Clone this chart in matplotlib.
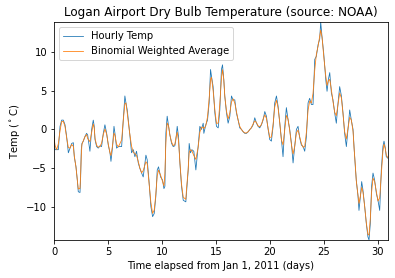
import numpy as np
import matplotlib
matplotlib.use("Agg")
import matplotlib.pyplot as plt

# Logan Airport dry bulb temperature, Jan 2011
days = [0.00, 0.09, 0.25, 0.40, 0.56, 0.71, 0.86, 1.02, 1.17, 1.33, 1.48, 1.64, 1.79,
        1.88, 2.04, 2.16, 2.25, 2.41, 2.47, 2.53, 2.59, 2.72, 2.87, 3.02, 3.12, 3.33,
        3.49, 3.64, 3.73, 3.80, 3.95, 4.10, 4.26, 4.41, 4.57, 4.72, 4.88, 5.03, 5.19,
        5.28, 5.43, 5.56, 5.65, 5.80, 5.96, 6.27, 6.42, 6.57, 6.67, 6.79, 6.98, 7.19,
        7.35, 7.50, 7.65, 7.81, 7.96, 8.12, 8.27, 8.52, 8.64, 8.80, 8.98, 9.14, 9.29,
        9.44, 9.57, 9.69, 9.88, 10.06, 10.19, 10.28, 10.37, 10.49, 10.62, 10.74, 10.90,
        11.05, 11.20, 11.30, 11.42, 11.54, 11.67, 11.82, 11.98, 12.22, 12.28, 12.44,
        12.53, 12.65, 12.78, 12.96, 13.15, 13.36, 13.52, 13.67, 13.83, 13.89, 14.07,
        14.23, 14.38, 14.51, 14.60, 14.75, 14.91, 15.06, 15.22, 15.37, 15.52, 15.62,
        15.74, 15.83, 15.99, 16.14, 16.30, 16.45, 16.60, 16.76, 16.91, 17.07, 17.22,
        17.38, 17.53, 17.69, 17.84, 18.00, 18.15, 18.30, 18.46, 18.61, 18.77, 18.92,
        19.07, 19.23, 19.38, 19.54, 19.69, 19.85, 20.00, 20.15, 20.31, 20.46, 20.62,
        20.77, 20.93, 21.08, 21.23, 21.39, 21.54, 21.70, 21.85, 22.01, 22.16, 22.31,
        22.47, 22.62, 22.78, 22.93, 23.09, 23.24, 23.40, 23.55, 23.70, 23.86, 24.01,
        24.17, 24.32, 24.48, 24.63, 24.72, 24.85, 25.00, 25.19, 25.31, 25.43, 25.56,
        25.71, 25.86, 26.02, 26.17, 26.33, 26.48, 26.64, 26.79, 26.94, 27.10, 27.25,
        27.41, 27.56, 27.72, 27.81, 27.93, 28.02, 28.18, 28.27, 28.40, 28.52, 28.64,
        28.80, 28.95, 29.10, 29.20, 29.32, 29.44, 29.57, 29.72, 29.88, 30.03, 30.19,
        30.34, 30.49, 30.59, 30.71, 30.80, 30.96]

temps = [-0.3, -2.6, -2.6, -2.6, 0.4, 1.2, 1.2, 0.6, -0.9, -3.0, -2.4, -1.8, -1.7,
         -3.5, -4.8, -6.5, -8.0, -8.1, -6.1, -2.6, -1.8, -1.5, -0.9, -0.5, -0.7, -2.8,
         0.0, 1.2, 0.4, -1.3, -2.2, -2.4, -2.1, -2.2, -0.5, 0.6, -0.5, -2.0, -3.0,
         -4.1, -2.2, 0.4, -0.5, -2.4, -2.2, -2.2, 1.2, 4.3, 3.4, 2.5, 0.0, -3.0,
         -2.6, -3.5, -2.8, -4.3, -5.0, -5.6, -6.1, -3.3, -3.9, -6.5, -9.9, -11.2, -10.8,
         -8.6, -5.2, -4.8, -6.1, -6.5, -7.6, -7.3, -0.5, 1.7, 0.4, -0.7, -1.8,
         -2.2, -2.1, -1.3, 0.4, -0.9, -4.3, -7.3, -9.1, -9.3, -8.2, -5.2,
         -1.8, -3.0, -2.6, -2.8, -5.2, -2.2, 0.4, 0.0, 0.8, -0.5, 0.6,
         1.2, 3.4, 7.7, 6.8, 5.5, 2.1, 0.4, 0.2, 2.5, 7.7, 8.3,
         6.4, 4.3, 2.1, 0.8, 1.7, 4.3, 3.8, 3.8, 2.1, 1.2, 0.2,
         0.0, -0.3, -0.5, -0.5, -0.3, 0.0, 0.2, 0.6, 1.5, 0.8, 0.4,
         0.2, 0.6, 1.2, 2.3, 1.7, 0.0, -1.3, -1.5, 0.4, 3.4, 4.3,
         3.0, 0.8, -1.3, -3.5, 0.4, 2.8, 1.2, 0.0, -1.8, -4.3, -2.2,
         0.0, 0.4, -1.1, -2.0, -2.2, -2.8, -0.9, 3.4, 4.0, 3.2, 3.2,
         9.0, 9.4, 10.9, 11.6, 13.8, 11.8, 9.8, 6.4, 4.9, 6.4, 7.3,
         4.7, 3.8, 2.1, 0.8, 3.4, 5.5, 4.3, 2.1, -0.5, -2.2, 0.0,
         2.5, 1.2, 0.0, -2.2, -4.8, -6.5, -8.6, -10.4, -8.6, -6.7, -7.8,
         -9.9, -12.1, -13.8, -14.2, -12.1, -7.3, -5.6, -6.5, -8.2, -9.1, -10.4,
         -5.2, -2.2, -1.5, -2.4, -3.5, -3.7]

# binomial weights for the smoothed curve
weights = np.array([1, 2, 1]) / 4.0

t = np.array(days)
T = np.array(temps)
padded = np.concatenate([[T[0]], T, [T[-1]]])
T_smooth = np.convolve(padded, weights, mode='valid')

fig = plt.figure(figsize=(395/72, 278/72), dpi=72)
ax = fig.add_axes([54/395, 1 - 240/278, 334/395, 218/278])

ax.plot(t, T, color='C0', lw=0.8, label='Hourly Temp')
ax.plot(t, T_smooth, color='C1', lw=0.8, label='Binomial Weighted Average')

ax.set_xlim(t.min(), t.max())
ax.set_ylim(T.min(), T.max())
ax.set_xticks([0, 5, 10, 15, 20, 25, 30])
ax.set_yticks([-10, -5, 0, 5, 10])

ax.set_title('Logan Airport Dry Bulb Temperature (source: NOAA)')
ax.set_xlabel('Time elapsed from Jan 1, 2011 (days)')
ax.set_ylabel(r'Temp ($^\circ$C)')
ax.legend(loc='upper left')

fig.savefig('out.png', dpi=72)
